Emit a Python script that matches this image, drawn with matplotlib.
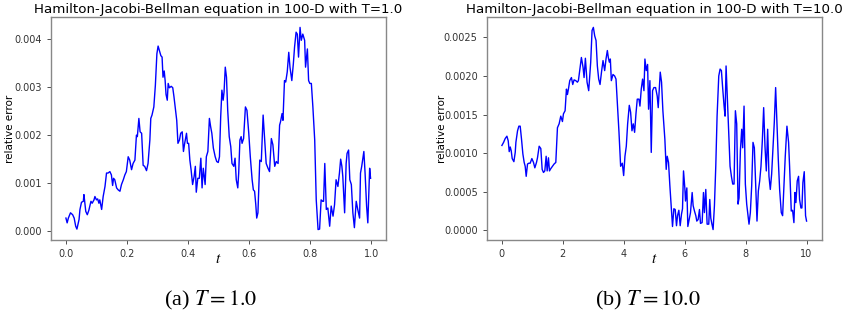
import matplotlib
matplotlib.use("Agg")
import matplotlib.pyplot as plt

# ---- Panel (a): T = 1.0 ----
t_a = [
    0.000, 0.004, 0.008, 0.015, 0.022, 0.027, 0.032, 0.036, 0.043, 0.046,
    0.051, 0.057, 0.059, 0.062, 0.065, 0.070, 0.075, 0.082, 0.086, 0.092,
    0.095, 0.100, 0.104, 0.108, 0.111, 0.117, 0.122, 0.128, 0.133, 0.138,
    0.144, 0.149, 0.153, 0.156, 0.160, 0.166, 0.171, 0.177, 0.182, 0.188,
    0.193, 0.198, 0.204, 0.209, 0.215, 0.220, 0.226, 0.231, 0.234, 0.239,
    0.243, 0.248, 0.253, 0.258, 0.264, 0.269, 0.275, 0.278, 0.282, 0.288,
    0.293, 0.298, 0.302, 0.306, 0.311, 0.315, 0.318, 0.322, 0.325, 0.328,
    0.332, 0.335, 0.339, 0.345, 0.350, 0.354, 0.359, 0.363, 0.367, 0.372,
    0.376, 0.381, 0.385, 0.389, 0.395, 0.398, 0.402, 0.406, 0.410, 0.415,
    0.420, 0.424, 0.427, 0.432, 0.437, 0.442, 0.446, 0.450, 0.456, 0.460,
    0.465, 0.470, 0.474, 0.478, 0.483, 0.489, 0.494, 0.499, 0.503, 0.507,
    0.511, 0.515, 0.518, 0.522, 0.526, 0.530, 0.535, 0.540, 0.544, 0.550,
    0.554, 0.558, 0.563, 0.566, 0.570, 0.574, 0.577, 0.582, 0.588, 0.593,
    0.599, 0.604, 0.610, 0.614, 0.618, 0.622, 0.625, 0.629, 0.635, 0.640,
    0.646, 0.651, 0.656, 0.662, 0.667, 0.673, 0.678, 0.684, 0.689, 0.695,
    0.700, 0.703, 0.708, 0.711, 0.716, 0.720, 0.725, 0.730, 0.734, 0.740,
    0.745, 0.749, 0.754, 0.758, 0.762, 0.767, 0.771, 0.776, 0.782, 0.785,
    0.791, 0.795, 0.799, 0.804, 0.809, 0.815, 0.820, 0.826, 0.831, 0.836,
    0.841, 0.844, 0.848, 0.853, 0.858, 0.864, 0.869, 0.875, 0.880, 0.885,
    0.891, 0.896, 0.900, 0.904, 0.907, 0.913, 0.918, 0.921, 0.926, 0.930,
    0.935, 0.940, 0.945, 0.951, 0.956, 0.962, 0.965, 0.969, 0.976, 0.980,
    0.985, 0.989, 0.995, 0.998,
]
err_a = [
    0.00026, 0.00016, 0.00026, 0.00037, 0.00033, 0.00026, 0.00009, 0.00003, 0.00023, 0.00044,
    0.00059, 0.00061, 0.00075, 0.00057, 0.00040, 0.00033, 0.00042, 0.00061, 0.00057, 0.00064,
    0.00071, 0.00064, 0.00066, 0.00057, 0.00064, 0.00044, 0.00071, 0.00092, 0.00120, 0.00120,
    0.00123, 0.00116, 0.00094, 0.00109, 0.00106, 0.00089, 0.00085, 0.00082, 0.00096, 0.00106,
    0.00116, 0.00123, 0.00154, 0.00147, 0.00127, 0.00140, 0.00147, 0.00199, 0.00196, 0.00234,
    0.00206, 0.00203, 0.00136, 0.00134, 0.00125, 0.00140, 0.00189, 0.00234, 0.00241, 0.00258,
    0.00303, 0.00369, 0.00385, 0.00376, 0.00365, 0.00362, 0.00320, 0.00333, 0.00313, 0.00284,
    0.00272, 0.00307, 0.00298, 0.00301, 0.00298, 0.00279, 0.00251, 0.00230, 0.00182, 0.00189,
    0.00203, 0.00206, 0.00165, 0.00182, 0.00203, 0.00182, 0.00182, 0.00147, 0.00127, 0.00096,
    0.00113, 0.00134, 0.00080, 0.00109, 0.00109, 0.00151, 0.00089, 0.00130, 0.00096, 0.00154,
    0.00165, 0.00234, 0.00217, 0.00203, 0.00172, 0.00154, 0.00144, 0.00142, 0.00154, 0.00237,
    0.00293, 0.00272, 0.00289, 0.00341, 0.00320, 0.00251, 0.00196, 0.00175, 0.00140, 0.00134,
    0.00151, 0.00106, 0.00089, 0.00120, 0.00189, 0.00196, 0.00182, 0.00192, 0.00258, 0.00251,
    0.00203, 0.00154, 0.00106, 0.00085, 0.00082, 0.00054, 0.00026, 0.00037, 0.00147, 0.00144,
    0.00241, 0.00189, 0.00140, 0.00130, 0.00123, 0.00192, 0.00179, 0.00134, 0.00144, 0.00140,
    0.00220, 0.00227, 0.00244, 0.00230, 0.00313, 0.00310, 0.00331, 0.00372, 0.00341, 0.00313,
    0.00348, 0.00383, 0.00414, 0.00410, 0.00362, 0.00424, 0.00397, 0.00410, 0.00397, 0.00341,
    0.00379, 0.00313, 0.00307, 0.00307, 0.00258, 0.00189, 0.00064, 0.00002, 0.00003, 0.00064,
    0.00061, 0.00061, 0.00140, 0.00044, 0.00047, 0.00009, 0.00051, 0.00030, 0.00054, 0.00106,
    0.00092, 0.00120, 0.00149, 0.00134, 0.00113, 0.00037, 0.00140, 0.00161, 0.00168, 0.00106,
    0.00096, 0.00037, 0.00006, 0.00061, 0.00044, 0.00026, 0.00120, 0.00134, 0.00165, 0.00120,
    0.00051, 0.00016, 0.00130, 0.00109,
]

# ---- Panel (b): T = 10.0 ----
t_b = [
    0.000, 0.055, 0.109, 0.164, 0.207, 0.240, 0.273, 0.306, 0.338, 0.393,
    0.437, 0.459, 0.513, 0.557, 0.600, 0.644, 0.688, 0.731, 0.764, 0.797,
    0.841, 0.884, 0.928, 0.983, 1.037, 1.081, 1.135, 1.168, 1.223, 1.277,
    1.321, 1.365, 1.408, 1.452, 1.485, 1.528, 1.561, 1.605, 1.659, 1.714,
    1.769, 1.823, 1.878, 1.932, 1.987, 2.020, 2.074, 2.118, 2.151, 2.183,
    2.227, 2.282, 2.325, 2.369, 2.424, 2.478, 2.511, 2.566, 2.609, 2.664,
    2.697, 2.740, 2.795, 2.849, 2.915, 2.959, 3.002, 3.046, 3.090, 3.133,
    3.177, 3.221, 3.275, 3.319, 3.373, 3.417, 3.461, 3.493, 3.526, 3.559,
    3.592, 3.646, 3.701, 3.745, 3.788, 3.843, 3.897, 3.952, 3.996, 4.039,
    4.083, 4.127, 4.181, 4.225, 4.269, 4.312, 4.356, 4.400, 4.443, 4.498,
    4.531, 4.574, 4.618, 4.662, 4.694, 4.738, 4.782, 4.814, 4.858, 4.902,
    4.945, 4.989, 5.044, 5.098, 5.131, 5.164, 5.197, 5.240, 5.284, 5.349,
    5.393, 5.426, 5.469, 5.513, 5.557, 5.600, 5.644, 5.688, 5.731, 5.764,
    5.808, 5.852, 5.895, 5.928, 5.961, 6.004, 6.026, 6.070, 6.103, 6.146,
    6.190, 6.245, 6.277, 6.321, 6.365, 6.397, 6.441, 6.485, 6.518, 6.572,
    6.616, 6.648, 6.692, 6.736, 6.790, 6.823, 6.856, 6.889, 6.932, 6.976,
    7.020, 7.063, 7.118, 7.162, 7.205, 7.249, 7.293, 7.325, 7.358, 7.402,
    7.445, 7.489, 7.533, 7.576, 7.620, 7.664, 7.707, 7.751, 7.784, 7.828,
    7.871, 7.904, 7.948, 7.991, 8.035, 8.079, 8.111, 8.155, 8.199, 8.242,
    8.286, 8.330, 8.373, 8.417, 8.461, 8.504, 8.548, 8.592, 8.635, 8.679,
    8.723, 8.766, 8.810, 8.854, 8.897, 8.941, 8.985, 9.028, 9.072, 9.116,
    9.170, 9.214, 9.258, 9.301, 9.356, 9.410, 9.443, 9.498, 9.541, 9.585,
    9.618, 9.651, 9.694, 9.738, 9.771, 9.815, 9.847, 9.880, 9.924, 9.967,
    10.000,
]
err_b = [
    0.00110, 0.00114, 0.00119, 0.00122, 0.00116, 0.00102, 0.00108, 0.00103, 0.00093, 0.00089,
    0.00101, 0.00114, 0.00129, 0.00135, 0.00135, 0.00118, 0.00099, 0.00088, 0.00083, 0.00070,
    0.00086, 0.00087, 0.00087, 0.00093, 0.00088, 0.00081, 0.00088, 0.00094, 0.00109, 0.00106,
    0.00079, 0.00075, 0.00077, 0.00096, 0.00077, 0.00094, 0.00077, 0.00080, 0.00083, 0.00086,
    0.00088, 0.00133, 0.00138, 0.00148, 0.00141, 0.00151, 0.00155, 0.00183, 0.00176, 0.00183,
    0.00194, 0.00198, 0.00189, 0.00195, 0.00194, 0.00192, 0.00194, 0.00211, 0.00224, 0.00211,
    0.00198, 0.00223, 0.00192, 0.00181, 0.00218, 0.00259, 0.00263, 0.00252, 0.00246, 0.00213,
    0.00196, 0.00189, 0.00207, 0.00220, 0.00207, 0.00222, 0.00233, 0.00224, 0.00218, 0.00222,
    0.00194, 0.00202, 0.00200, 0.00196, 0.00166, 0.00127, 0.00083, 0.00087, 0.00071, 0.00096,
    0.00109, 0.00138, 0.00162, 0.00153, 0.00129, 0.00138, 0.00127, 0.00151, 0.00170, 0.00170,
    0.00161, 0.00183, 0.00196, 0.00181, 0.00222, 0.00207, 0.00215, 0.00157, 0.00194, 0.00101,
    0.00181, 0.00185, 0.00185, 0.00174, 0.00159, 0.00183, 0.00205, 0.00192, 0.00155, 0.00118,
    0.00079, 0.00096, 0.00088, 0.00058, 0.00032, 0.00005, 0.00028, 0.00027, 0.00006, 0.00019,
    0.00026, 0.00006, 0.00021, 0.00028, 0.00077, 0.00055, 0.00038, 0.00055, 0.00005, 0.00014,
    0.00023, 0.00049, 0.00032, 0.00025, 0.00019, 0.00012, 0.00014, 0.00027, 0.00009, 0.00010,
    0.00049, 0.00023, 0.00053, 0.00008, 0.00008, 0.00040, 0.00016, 0.00009, 0.00001, 0.00032,
    0.00083, 0.00148, 0.00200, 0.00209, 0.00207, 0.00183, 0.00161, 0.00148, 0.00213, 0.00170,
    0.00131, 0.00083, 0.00070, 0.00060, 0.00060, 0.00155, 0.00138, 0.00034, 0.00042, 0.00103,
    0.00131, 0.00107, 0.00161, 0.00060, 0.00034, 0.00019, 0.00008, 0.00023, 0.00058, 0.00114,
    0.00107, 0.00058, 0.00012, 0.00051, 0.00064, 0.00083, 0.00116, 0.00159, 0.00109, 0.00077,
    0.00131, 0.00070, 0.00053, 0.00073, 0.00105, 0.00140, 0.00185, 0.00140, 0.00092, 0.00053,
    0.00023, 0.00019, 0.00058, 0.00096, 0.00135, 0.00114, 0.00083, 0.00025, 0.00026, 0.00010,
    0.00049, 0.00036, 0.00064, 0.00070, 0.00040, 0.00029, 0.00029, 0.00062, 0.00076, 0.00019,
    0.00012,
]

titles = ["Hamilton-Jacobi-Bellman equation in 100-D with T=1.0",
          "Hamilton-Jacobi-Bellman equation in 100-D with T=10.0"]
captions = ["(a) $T = 1.0$", "(b) $T = 10.0$"]
xticks_a = [0.0, 0.2, 0.4, 0.6, 0.8, 1.0]
yticks_a = [0.000, 0.001, 0.002, 0.003, 0.004]
xticks_b = [0, 2, 4, 6, 8, 10]
yticks_b = [0.0, 0.0005, 0.0010, 0.0015, 0.0020, 0.0025]

plt.rcParams['mathtext.fontset'] = 'stix'
fig = plt.figure(figsize=(8.42, 3.2), dpi=100)
ax1 = fig.add_axes([0.0602, 0.251, 0.398, 0.695])
ax2 = fig.add_axes([0.578, 0.251, 0.398, 0.695])

panels = [(ax1, t_a, err_a, xticks_a, yticks_a, "{:.1f}", "{:.3f}", -0.121, 0.2506),
          (ax2, t_b, err_b, xticks_b, yticks_b, "{:d}", "{:.4f}", -0.134, 0.7696)]
for i, (ax, t, e, xt, yt, xf, yf, ylx, capx) in enumerate(panels):
    ax.plot(t, e, color='blue', lw=1.0)
    ax.set_xticks(xt)
    ax.set_xticklabels([xf.format(v) for v in xt])
    ax.set_yticks(yt)
    ax.set_yticklabels([yf.format(v) for v in yt])
    ax.tick_params(labelsize=7, colors='#333333', length=3, width=0.6)
    for sp in ax.spines.values():
        sp.set_color('#888888')
        sp.set_linewidth(1.0)
    ax.set_title(titles[i], fontsize=9.6, pad=3)
    ax.set_ylabel("relative error", fontsize=7.5, va='center')
    ax.yaxis.set_label_coords(ylx, 0.5)
    ax.set_xlabel("$t$", fontsize=11, va='center')
    ax.xaxis.set_label_coords(0.5, -0.085)
    fig.text(capx, 1 - 300 / 320, captions[i], ha='center', va='center',
             fontsize=16, family='Liberation Serif')

fig.savefig("out.png", dpi=100)
